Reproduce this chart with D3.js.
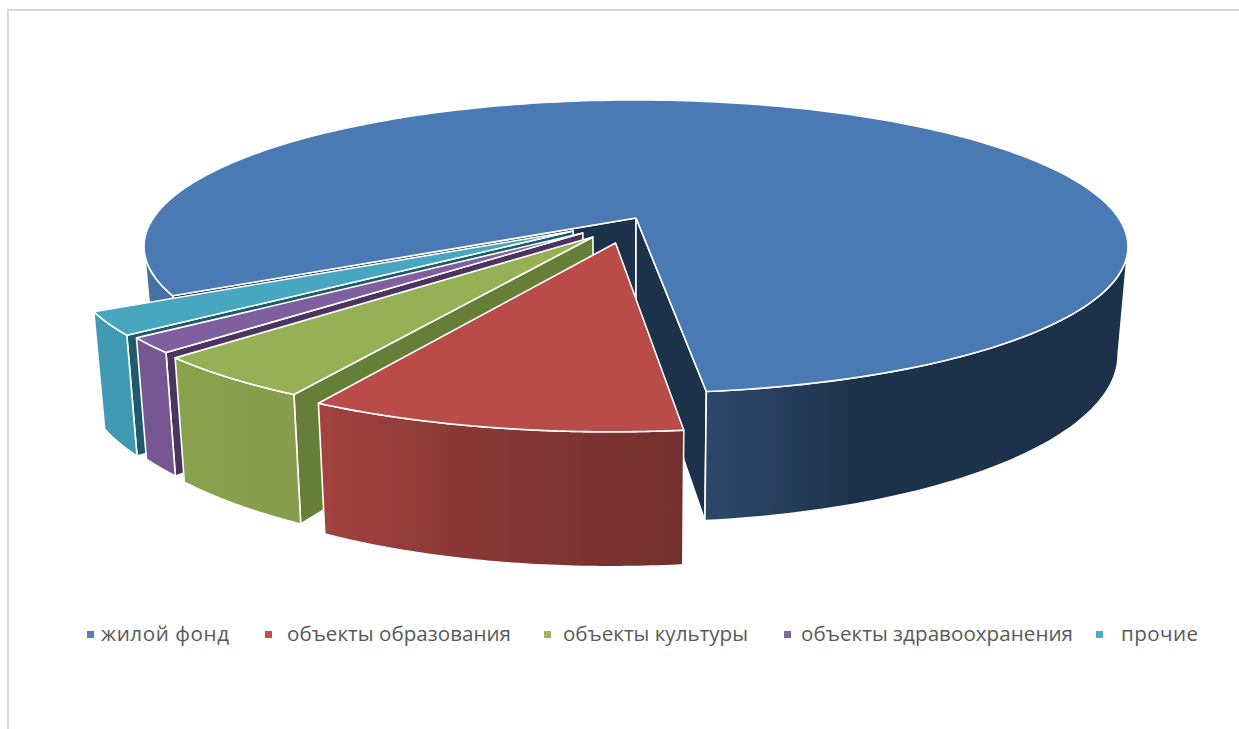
<!DOCTYPE html>
<html><head><meta charset="utf-8">
<style>html,body{margin:0;padding:0;background:#fff}svg{display:block}</style>
<script src="https://cdn.jsdelivr.net/npm/d3@7"></script></head>
<body><svg id="c" width="1239" height="729"></svg>
<script>
// ---- data ----
const categories = ["жилой фонд", "объекты образования", "объекты культуры", "объекты здравоохранения", "прочие"];
const values = [81.43, 9.9, 4.62, 1.6, 2.45];
// ---- styles and layout ----
const topColors = ["#4a7ab4", "#b94c48", "#95b055", "#7f5f9e", "#46a6c0"];
const legendColors = ["#4f81bd", "#c0504d", "#9bbb59", "#8064a2", "#4bacc6"];
const wallColors = ["#1f334c", "#7a2f2d", "#667f38", "#4b3560", "#1f5c6c"];
const legendSwatchX = [87, 265, 544, 784, 1096];
const legendTextX = [101, 287, 563, 801, 1121];
const legendTextW = [128, 224, 185, 272, 77];
const drawOrder = [0, 4, 3, 2, 1];
const explodeX = [0, -0.041, -0.087, -0.108, -0.128];
const explodeY = [0, 0.171, 0.131, 0.104, 0.09];
// ---- geometry ----
const W = 1239, H = 729;
const cx = 636, cy = 218, a = 482.6, b = 141, k = 0.1945, firstAngle = 240.1;
const rad = d => d * Math.PI / 180;
const svg = d3.select("#c");
const defs = svg.append("defs");
defs.append("filter").attr("id", "soft").attr("x", "-2%").attr("y", "-2%").attr("width", "104%").attr("height", "104%")
  .append("feGaussianBlur").attr("stdDeviation", 0.55);
const arcs = d3.pie().sort(null).value(d => d)
  .startAngle(rad(firstAngle)).endAngle(rad(firstAngle + 360))(values);

function project(x, y, z) {
  const s = 1 / (1 - k * y);
  const sx = cx + a * x * s, sy = cy + b * y * s;
  return [cx + (sx - cx) * (1 - 0.02 * z), sy + z * (118 + 0.145 * (sy - 315))];
}
const line = d3.line().curve(d3.curveLinear);
const apex = (i, z) => project(explodeX[i], explodeY[i], z);
const rim = (i, t, z) => project(explodeX[i] + Math.sin(t), explodeY[i] - Math.cos(t), z);
const shadeX = d3.scaleLinear().domain([100, 300, 450, 683, 850, 1127]).range([.93, .9, .75, .62, .42, .42]).clamp(true);
function gradient(i) {
  const id = "wall" + i;
  const g = defs.append("linearGradient").attr("id", id).attr("gradientUnits", "userSpaceOnUse")
    .attr("x1", 100).attr("x2", 1127).attr("y1", 0).attr("y2", 0);
  const base = d3.rgb(topColors[i]);
  shadeX.domain().forEach(x => {
    const f = shadeX(x);
    g.append("stop").attr("offset", (x - 100) / 1027)
      .attr("stop-color", d3.rgb(base.r * f, base.g * f, base.b * f).formatHex());
  });
  return `url(#${id})`;
}
const silL = rad(101.2), silR = rad(258.8);
const plot = svg.append("g").attr("filter", "url(#soft)");
drawOrder.forEach(i => {
  const d = arcs[i];
  const g = plot.append("g").attr("stroke", "#fff").attr("stroke-width", 1.6).attr("stroke-linejoin", "round");
  const fill = gradient(i);
  // straight cut walls: start wall shows when its rim is left of the apex, end wall when right
  [d.startAngle, d.endAngle].forEach((t, n) => {
    const p = [apex(i, 0), rim(i, t, 0), rim(i, t, 1), apex(i, 1)];
    const ex = p[1][0] - p[0][0];
    if (n === 0 ? ex < 0 : ex > 0) g.append("path").attr("d", line(p) + "Z").attr("fill", wallColors[i]);
  });
  // outer rim, the part between the two silhouette angles
  [0, 1].forEach(turn => {
    const lo = Math.max(d.startAngle, silL + turn * 2 * Math.PI);
    const hi = Math.min(d.endAngle, silR + turn * 2 * Math.PI);
    if (hi <= lo) return;
    const ts = d3.range(0, 61).map(j => lo + (hi - lo) * j / 60);
    const p = ts.map(t => rim(i, t, 0)).concat(ts.slice().reverse().map(t => rim(i, t, 1)));
    g.append("path").attr("d", line(p) + "Z").attr("fill", fill);
  });
  // top face
  const ts = d3.range(0, 241).map(j => d.startAngle + (d.endAngle - d.startAngle) * j / 240);
  const top = [apex(i, 0)].concat(ts.map(t => rim(i, t, 0)));
  g.append("path").attr("d", line(top) + "Z").attr("fill", topColors[i]);
});
// ---- frame ----
svg.append("path").attr("d", `M8 ${H}V10H${W}`).attr("fill", "none").attr("stroke", "#d9d9d9").attr("stroke-width", 2);
// ---- legend ----
const lg = svg.append("g");
lg.selectAll("rect").data(categories).join("rect")
  .attr("x", (d, i) => legendSwatchX[i]).attr("y", 631).attr("width", 7).attr("height", 7)
  .attr("fill", (d, i) => legendColors[i]);
lg.selectAll("text").data(categories).join("text")
  .attr("x", (d, i) => legendTextX[i]).attr("y", 641)
  .attr("font-family", "'Open Sans'").attr("font-size", 20.6).attr("fill", "#595959")
  .attr("textLength", (d, i) => legendTextW[i]).attr("lengthAdjust", "spacing").text(d => d);
</script></body></html>
